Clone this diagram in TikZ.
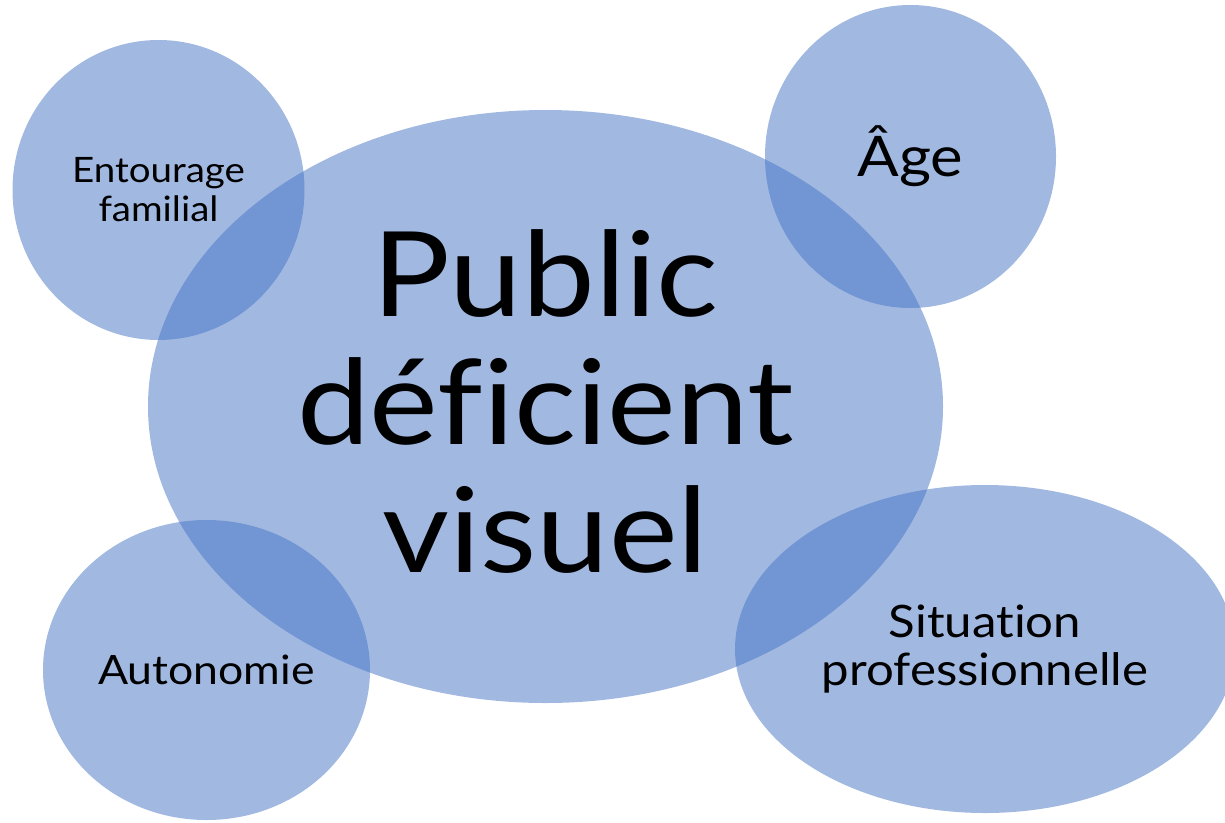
\documentclass[tikz,border=0pt]{standalone}
\usepackage{fontspec}
\setmainfont[FakeStretch=1.1,Ligatures={NoCommon}]{Lato}
\usetikzlibrary{shapes.geometric}
\definecolor{bulle}{HTML}{4472C4}
\tikzset{bulle/.style={ellipse, fill=bulle, fill opacity=0.5, text opacity=1,
                       inner sep=0pt, align=center}}
\begin{document}
\begin{tikzpicture}[x=1pt,y=-1pt]
\useasboundingbox (0,0) rectangle (1225,822);
\clip (0,0) rectangle (1225,822);
\node[bulle, minimum width=795pt, minimum height=593pt, text depth=10pt,
      font=\fontsize{118}{128}\selectfont] (public) at (545.5,406.5) {Public\\déficient\\visuel};
\node[bulle, minimum width=292pt, minimum height=300pt,
      font=\fontsize{35}{39}\selectfont] (entourage) at (158.5,190) {Entourage\\familial};
\node[bulle, minimum width=291pt, minimum height=303pt,
      font=\fontsize{56}{60}\selectfont] (age) at (910.5,156.5) {Âge};
\node[bulle, minimum width=327pt, minimum height=300pt,
      font=\fontsize{40.5}{48}\selectfont] (autonomie) at (206.5,670) {Autonomie};
\node[bulle, minimum width=500pt, minimum height=328pt,
      font=\fontsize{44.7}{48}\selectfont] (situation) at (985,649) {Situation\\professionnelle};
\end{tikzpicture}
\end{document}
